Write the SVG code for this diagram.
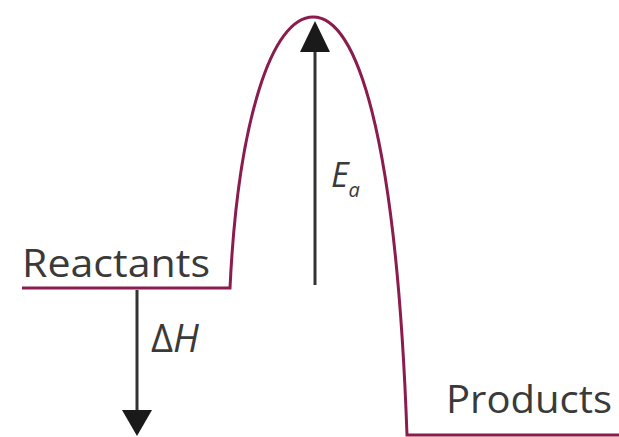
<svg xmlns="http://www.w3.org/2000/svg" width="619" height="437" viewBox="0 0 619 437">
<style>
.curve{fill:none;stroke:#8a1c4e;stroke-width:3;stroke-linejoin:miter}
.arr{stroke:#333;stroke-width:3;fill:none}
.head{fill:#1a1a1a}
.lbl{font-family:"Open Sans","Liberation Sans",sans-serif;fill:#3a3a3a}
.it{font-style:italic}
</style>
<rect width="619" height="437" fill="#fff"/>
<g id="connectors">
<path id="energy-curve" class="curve" d="M22,288 H230 C238,120 272,17 313,17 C356,17 396,130 407,435 H619"/>
<g id="ea-arrow"><line class="arr" x1="315" y1="285" x2="315" y2="48"/><polygon class="head" points="315,21 300,52 330,52"/></g>
<g id="dh-arrow"><line class="arr" x1="137" y1="290" x2="137" y2="412"/><polygon class="head" points="122,410 152,410 137,436"/></g>
</g>
<g id="reactants"><text class="lbl" x="22" y="277" font-size="38" textLength="188" lengthAdjust="spacingAndGlyphs">Reactants</text></g>
<g id="products"><text class="lbl" x="446" y="413" font-size="38" textLength="166" lengthAdjust="spacingAndGlyphs">Products</text></g>
<g id="dh-label"><text class="lbl" x="151" y="352" font-size="38">Δ<tspan class="it">H</tspan></text></g>
<g id="ea-label"><text class="lbl it" x="331" y="187" font-size="34">E<tspan font-size="20" dy="10">a</tspan></text></g>
</svg>
